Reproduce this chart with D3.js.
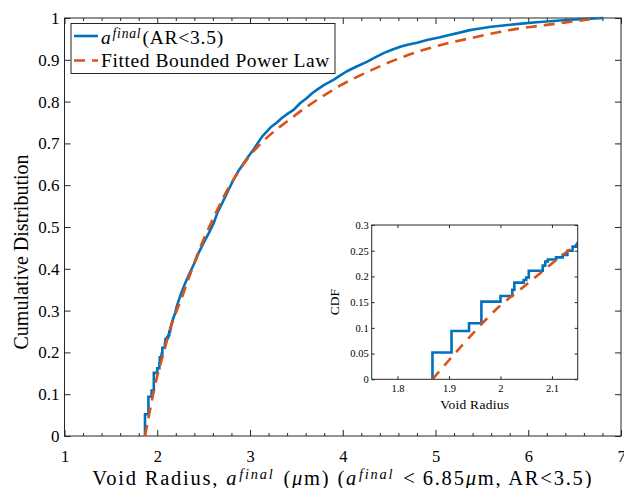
<!DOCTYPE html>
<html>
<head>
<meta charset="utf-8">
<script src="https://cdn.jsdelivr.net/npm/d3@7"></script>
<style>
  body { margin: 0; background: #fff; }
  text { font-family: "Liberation Serif", "DejaVu Serif", serif; fill: #000; }
</style>
</head>
<body>
<div id="chart"></div>
<script>
// Empirical CDF, low end (step points: value jumps to y at x)
const empiricalSteps = [
  [1.868, 0], [1.868, 0.052], [1.905, 0.094], [1.939, 0.109], [1.963, 0.151],
  [2.000, 0.162], [2.023, 0.174], [2.027, 0.188], [2.045, 0.193], [2.050, 0.198],
  [2.055, 0.211], [2.082, 0.221], [2.087, 0.229], [2.092, 0.233], [2.108, 0.237],
  [2.121, 0.242], [2.130, 0.250], [2.140, 0.258], [2.147, 0.263]
];

// Empirical CDF, rest (steps too small to see at this scale)
const empiricalTail = [
  [2.147, 0.263], [2.17, 0.28], [2.19, 0.292], [2.21, 0.31], [2.26, 0.343],
  [2.30, 0.365], [2.35, 0.39], [2.41, 0.418], [2.45, 0.44], [2.50, 0.462],
  [2.56, 0.487], [2.61, 0.51], [2.65, 0.535], [2.70, 0.557], [2.76, 0.585],
  [2.82, 0.612], [2.87, 0.632], [2.93, 0.652], [2.98, 0.668], [3.04, 0.686],
  [3.09, 0.703], [3.13, 0.716], [3.18, 0.728], [3.23, 0.74], [3.29, 0.75],
  [3.34, 0.76], [3.40, 0.77], [3.47, 0.78], [3.54, 0.796], [3.61, 0.808],
  [3.67, 0.82], [3.72, 0.828], [3.80, 0.84], [3.90, 0.852], [3.97, 0.862],
  [4.04, 0.872], [4.15, 0.884], [4.26, 0.895], [4.35, 0.906], [4.44, 0.916],
  [4.53, 0.924], [4.62, 0.931], [4.70, 0.936], [4.80, 0.941], [4.92, 0.948],
  [5.05, 0.954], [5.16, 0.96], [5.26, 0.965], [5.37, 0.971], [5.48, 0.975],
  [5.60, 0.979], [5.73, 0.982], [5.90, 0.986], [6.09, 0.99], [6.27, 0.993],
  [6.45, 0.996], [6.62, 0.998], [6.81, 1.0]
];

// Fitted bounded power law CDF
const fittedCdf = [
  [1.868, 0], [1.922, 0.062], [1.994, 0.138], [2.05, 0.184], [2.15, 0.263],
  [2.173, 0.278], [2.281, 0.341], [2.389, 0.408], [2.47, 0.455], [2.55, 0.495],
  [2.623, 0.53], [2.73, 0.578], [2.857, 0.626], [2.982, 0.666], [3.108, 0.698],
  [3.234, 0.724], [3.396, 0.752], [3.557, 0.779], [3.736, 0.806], [3.97, 0.838],
  [4.258, 0.87], [4.545, 0.898], [4.833, 0.921], [5.12, 0.939], [5.426, 0.954],
  [5.677, 0.966], [5.875, 0.974], [6.073, 0.98], [6.288, 0.986], [6.486, 0.992],
  [6.701, 0.998], [6.76, 1.0]
];

const xMajorTicks = [1, 2, 3, 4, 5, 6, 7];
const xMinorTicks = [1.2, 1.4, 1.6, 1.8, 2.2, 2.4, 2.6, 2.8, 3.2, 3.4, 3.6, 3.8,
  4.2, 4.4, 4.6, 4.8, 5.2, 5.4, 5.6, 5.8, 6.2, 6.4, 6.6, 6.8];
const yTicks = [0, 0.1, 0.2, 0.3, 0.4, 0.5, 0.6, 0.7, 0.8, 0.9, 1];
const insetXTicks = [1.8, 1.9, 2, 2.1];
const insetYTicks = [0, 0.05, 0.1, 0.15, 0.2, 0.25, 0.3];

const blue = "#0072BD";
const orange = "#D95319";
const axisColor = "#262626";

const width = 624;
const height = 488;

const svg = d3.select("#chart").append("svg")
  .attr("width", width)
  .attr("height", height);

// Main axes
const x = d3.scaleLinear().domain([1, 7]).range([64.5, 621]);
const y = d3.scaleLinear().domain([0, 1]).range([436, 18]);

function styleAxis(g, size) {
  g.attr("font-family", '"Liberation Serif", serif').attr("font-size", size);
  g.select(".domain").remove();
  g.selectAll("line").attr("stroke", axisColor);
  g.selectAll("text").attr("fill", "#000");
}

// widen a text a little toward the width it has in the reference
function fitWidth(sel, target) {
  const node = sel.node();
  const extra = target - node.getComputedTextLength();
  sel.attr("letter-spacing", Math.max(0, extra / node.getNumberOfChars()));
}

svg.append("g")
  .attr("transform", `translate(0,${y(0)})`)
  .call(d3.axisBottom(x).tickValues(xMajorTicks).tickFormat(d3.format("d"))
    .tickSizeInner(-6).tickSizeOuter(0).tickPadding(14))
  .call(g => styleAxis(g, 16.5));

svg.append("g")
  .attr("transform", `translate(0,${y(0)})`)
  .call(d3.axisBottom(x).tickValues(xMinorTicks).tickFormat("")
    .tickSizeInner(-3).tickSizeOuter(0))
  .call(g => styleAxis(g, 10));

svg.append("g")
  .attr("transform", `translate(0,${y(1)})`)
  .call(d3.axisTop(x).tickValues(xMajorTicks).tickFormat("")
    .tickSizeInner(-6).tickSizeOuter(0))
  .call(g => styleAxis(g, 10));

svg.append("g")
  .attr("transform", `translate(0,${y(1)})`)
  .call(d3.axisTop(x).tickValues(xMinorTicks).tickFormat("")
    .tickSizeInner(-3).tickSizeOuter(0))
  .call(g => styleAxis(g, 10));

svg.append("g")
  .attr("transform", `translate(${x(1)},0)`)
  .call(d3.axisLeft(y).tickValues(yTicks).tickFormat(d => d === 0 || d === 1 ? d : d3.format(".1f")(d))
    .tickSizeInner(-6).tickSizeOuter(0).tickPadding(5))
  .call(g => styleAxis(g, 17));

svg.append("g")
  .attr("transform", `translate(${x(7)},0)`)
  .call(d3.axisRight(y).tickValues(yTicks).tickFormat("")
    .tickSizeInner(-6).tickSizeOuter(0))
  .call(g => styleAxis(g, 10));

svg.append("rect")
  .attr("x", x(1)).attr("y", y(1))
  .attr("width", x(7) - x(1)).attr("height", y(0) - y(1))
  .attr("fill", "none").attr("stroke", axisColor).attr("stroke-width", 1);

// Curves
const stepLine = (xs, ys) => d3.line()
  .x(d => xs(d[0])).y(d => ys(d[1]))
  .curve(d3.curveStepAfter);
const plainLine = (xs, ys) => d3.line()
  .x(d => xs(d[0])).y(d => ys(d[1]));
const smoothLine = (xs, ys) => d3.line()
  .x(d => xs(d[0])).y(d => ys(d[1]))
  .curve(d3.curveMonotoneX);

function drawCurves(g, xs, ys, dash) {
  g.append("path")
    .datum(empiricalSteps)
    .attr("fill", "none").attr("stroke", blue).attr("stroke-width", 2.6)
    .attr("d", stepLine(xs, ys));
  g.append("path")
    .datum(empiricalTail)
    .attr("fill", "none").attr("stroke", blue).attr("stroke-width", 2.6)
    .attr("stroke-linejoin", "round")
    .attr("d", plainLine(xs, ys));
  g.append("path")
    .datum(fittedCdf)
    .attr("fill", "none").attr("stroke", orange).attr("stroke-width", 2.6)
    .attr("stroke-dasharray", dash)
    .attr("d", smoothLine(xs, ys));
}

drawCurves(svg.append("g"), x, y, "11,7");

// Rich text helper: parts of {t, it, sup, after, dx}
function richText(sel, parts, size) {
  parts.forEach(p => {
    const ts = sel.append("tspan").text(p.t);
    if (p.it) ts.style("font-style", "italic");
    if (p.dx) ts.attr("dx", p.dx);
    if (p.sup) {
      ts.attr("font-size", size * 0.7).attr("dy", -size * 0.3);
    } else if (p.after) {
      ts.attr("dy", size * 0.3);
    }
  });
}

// Axis labels
const xLabel = svg.append("text")
  .attr("x", (x(1) + x(7)) / 2)
  .attr("y", 485)
  .attr("text-anchor", "middle")
  .attr("font-size", 20.5);
richText(xLabel, [
  { t: "Void Radius, " }, { t: "a", it: true }, { t: "final", it: true, sup: true, dx: 1 },
  { t: " (", after: true, dx: 2 }, { t: "μ", it: true }, { t: "m) (" }, { t: "a", it: true },
  { t: "final", it: true, sup: true, dx: 1 }, { t: "<", after: true, dx: 9 },
  { t: "6.85", dx: 6 }, { t: "μ", it: true }, { t: "m, AR<3.5)" }
], 20.5);
fitWidth(xLabel, 482);

svg.append("text")
  .attr("transform", "translate(28,252) rotate(-90)")
  .attr("text-anchor", "middle")
  .attr("font-size", 20)
  .text("Cumulative Distribution");

// Legend
const legend = svg.append("g");
legend.append("rect")
  .attr("x", 71).attr("y", 23.5).attr("width", 264).attr("height", 50)
  .attr("fill", "#fff").attr("stroke", axisColor).attr("stroke-width", 1);
legend.append("line")
  .attr("x1", 74).attr("x2", 98).attr("y1", 36).attr("y2", 36)
  .attr("stroke", blue).attr("stroke-width", 2.6);
legend.append("line")
  .attr("x1", 74).attr("x2", 98).attr("y1", 60.5).attr("y2", 60.5)
  .attr("stroke", orange).attr("stroke-width", 2.6).attr("stroke-dasharray", "11,7");
const leg1 = legend.append("text").attr("x", 101).attr("y", 44).attr("font-size", 19.5);
richText(leg1, [
  { t: "a", it: true }, { t: "final", it: true, sup: true, dx: 1 }, { t: "(AR<3.5)", after: true, dx: 1 }
], 19.5);
fitWidth(leg1, 121);
const leg2 = legend.append("text").attr("x", 101).attr("y", 66.5).attr("font-size", 19.5)
  .text("Fitted Bounded Power Law");
fitWidth(leg2, 229);

// Inset
const ix = d3.scaleLinear().domain([1.75, 2.15]).range([371.7, 577.7]);
const iy = d3.scaleLinear().domain([0, 0.3]).range([379.3, 225]);

const inset = svg.append("g");
inset.append("rect")
  .attr("x", ix(1.75)).attr("y", iy(0.3))
  .attr("width", ix(2.15) - ix(1.75)).attr("height", iy(0) - iy(0.3))
  .attr("fill", "#fff");

svg.append("clipPath").attr("id", "inset-clip")
  .append("rect")
  .attr("x", ix(1.75)).attr("y", iy(0.3))
  .attr("width", ix(2.15) - ix(1.75)).attr("height", iy(0) - iy(0.3));

inset.append("g")
  .attr("transform", `translate(0,${iy(0)})`)
  .call(d3.axisBottom(ix).tickValues(insetXTicks).tickFormat(d => d === 2 ? "2" : d3.format(".1f")(d))
    .tickSizeInner(-3).tickSizeOuter(0).tickPadding(5))
  .call(g => styleAxis(g, 10.5));
inset.append("g")
  .attr("transform", `translate(0,${iy(0.3)})`)
  .call(d3.axisTop(ix).tickValues(insetXTicks).tickFormat("")
    .tickSizeInner(-3).tickSizeOuter(0))
  .call(g => styleAxis(g, 10.5));
inset.append("g")
  .attr("transform", `translate(${ix(1.75)},0)`)
  .call(d3.axisLeft(iy).tickValues(insetYTicks).tickFormat(d => d === 0 ? "0" : String(d))
    .tickSizeInner(-3).tickSizeOuter(0).tickPadding(3))
  .call(g => styleAxis(g, 10.5));
inset.append("g")
  .attr("transform", `translate(${ix(2.15)},0)`)
  .call(d3.axisRight(iy).tickValues(insetYTicks).tickFormat("")
    .tickSizeInner(-3).tickSizeOuter(0))
  .call(g => styleAxis(g, 10.5));

drawCurves(inset.append("g").attr("clip-path", "url(#inset-clip)"), ix, iy, "10,8");

inset.append("rect")
  .attr("x", ix(1.75)).attr("y", iy(0.3))
  .attr("width", ix(2.15) - ix(1.75)).attr("height", iy(0) - iy(0.3))
  .attr("fill", "none").attr("stroke", axisColor).attr("stroke-width", 1);

const insetXLabel = inset.append("text")
  .attr("x", (ix(1.75) + ix(2.15)) / 2)
  .attr("y", 409)
  .attr("text-anchor", "middle")
  .attr("font-size", 13.5)
  .text("Void Radius");
fitWidth(insetXLabel, 69);

inset.append("text")
  .attr("transform", `translate(339,${(iy(0) + iy(0.3)) / 2}) rotate(-90)`)
  .attr("text-anchor", "middle")
  .attr("font-size", 13.5)
  .text("CDF");
</script>
</body>
</html>
